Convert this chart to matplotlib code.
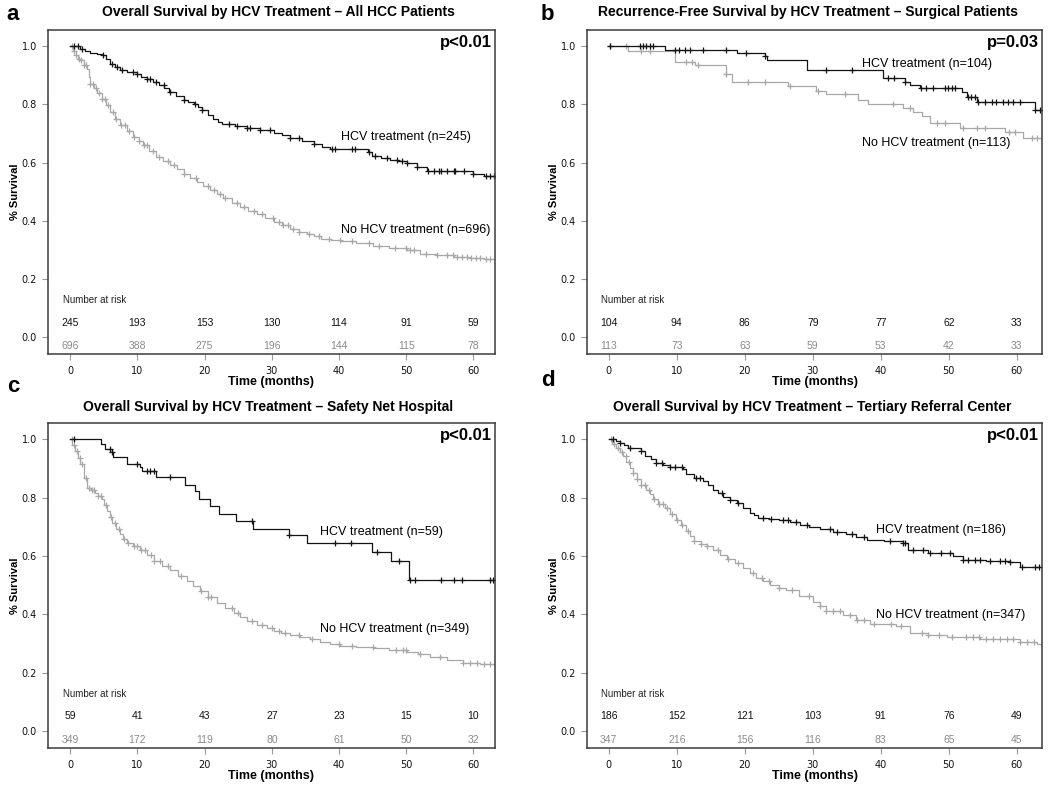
import numpy as np
import matplotlib
matplotlib.use("Agg")
import matplotlib.pyplot as plt

plt.rcParams['font.family'] = ['Liberation Sans', 'DejaVu Sans']

W, H = 1050, 786

# ---- panel a: all HCC patients ----
a_trt_t = [0, 1.5, 2.2, 3.0, 4.0, 4.7, 5.3, 5.9, 6.6, 7.4, 8.5, 9.9, 10.6, 11.4, 12.3, 13.2, 14.0,
           14.7, 15.8, 16.9, 17.6, 18.4, 19.0, 19.6, 20.5, 21.3, 22.0, 22.6, 24.5, 26.3, 28.3, 30.3,
           31.5, 32.7, 34.5, 36.2, 37.5, 38.7, 44.3, 44.9, 46.2, 47.6, 48.8, 50.1, 51.6, 53.1, 60.0,
           61.5, 63.2]
a_trt_s = [1.0, 0.99, 0.985, 0.977, 0.972, 0.969, 0.955, 0.94, 0.93, 0.92, 0.913, 0.906, 0.896, 0.886,
           0.876, 0.866, 0.855, 0.843, 0.83, 0.814, 0.807, 0.80, 0.79, 0.78, 0.765, 0.751, 0.741, 0.732,
           0.727, 0.72, 0.711, 0.702, 0.694, 0.686, 0.675, 0.663, 0.655, 0.648, 0.635, 0.622, 0.615,
           0.608, 0.604, 0.60, 0.585, 0.571, 0.5625, 0.553, 0.553]
a_trt_c = [0.5, 1.2, 1.7, 4.9, 6.2, 6.9, 7.7, 9.4, 9.9, 11.4, 11.9, 12.7, 13.9, 14.9, 16.9, 18.6, 19.6,
           23.6, 24.8, 26.3, 26.8, 28.3, 29.8, 32.7, 34.0, 36.2, 38.9, 39.4, 41.9, 42.4, 44.4, 45.4,
           47.1, 48.6, 49.4, 50.1, 51.6, 53.3, 54.1, 54.8, 55.1, 56.1, 57.1, 57.3, 58.6, 60.0, 61.8,
           62.5, 63.0]
a_no_t = [0, 0.4, 0.8, 1.2, 1.5, 2.0, 2.5, 2.8, 3.0, 3.5, 4.0, 4.7, 5.3, 5.9, 6.6, 7.4, 8.4, 9.4, 10.2,
          10.9, 11.8, 12.7, 13.8, 14.9, 15.9, 16.9, 17.8, 18.8, 19.8, 20.8, 21.8, 22.8, 24.0, 25.3, 26.5,
          27.8, 29.0, 30.3, 31.5, 32.7, 34.0, 35.2, 36.3, 37.3, 38.8, 40.3, 42.5, 45.1, 47.5, 50.1, 52.1,
          54.5, 57.1, 59.5, 61.5, 63.2]
a_no_s = [1.0, 0.985, 0.97, 0.958, 0.952, 0.937, 0.923, 0.895, 0.872, 0.855, 0.84, 0.82, 0.797, 0.774,
          0.75, 0.729, 0.708, 0.688, 0.674, 0.66, 0.64, 0.62, 0.605, 0.591, 0.577, 0.5625, 0.548, 0.534,
          0.52, 0.505, 0.491, 0.477, 0.462, 0.448, 0.435, 0.423, 0.41, 0.396, 0.384, 0.373, 0.363, 0.354,
          0.346, 0.339, 0.334, 0.33, 0.322, 0.313, 0.306, 0.299, 0.287, 0.282, 0.276, 0.271, 0.267, 0.267]
a_no_c = [0.3, 0.6, 0.9, 1.3, 1.6, 2.0, 2.4, 3.0, 3.4, 3.8, 4.3, 4.7, 5.2, 5.6, 6.3, 6.8, 7.5, 8.2, 8.8,
          9.5, 10.2, 11.0, 11.5, 12.3, 13.2, 14.5, 15.4, 17.0, 18.7, 20.5, 21.4, 22.3, 23.1, 24.8, 25.8,
          27.3, 28.6, 30.2, 31.0, 31.7, 32.4, 33.2, 34.0, 35.5, 37.0, 38.5, 40.2, 42.0, 44.5, 46.0, 48.3,
          50.0, 50.5, 51.2, 53.0, 54.5, 56.0, 57.0, 57.5, 58.3, 59.0, 59.6, 60.3, 61.0, 61.8, 62.5]
a_risk_trt = [245, 193, 153, 130, 114, 91, 59]
a_risk_no = [696, 388, 275, 196, 144, 115, 78]

# ---- panel b: surgical patients ----
b_trt_t = [0, 8.2, 18.8, 22.9, 23.2, 29.1, 40.3, 43.5, 44.3, 45.7, 51.9, 52.6, 54.1, 62.7, 63.7]
b_trt_s = [1.0, 0.986, 0.977, 0.966, 0.952, 0.918, 0.891, 0.877, 0.868, 0.855, 0.843, 0.826, 0.809,
           0.782, 0.782]
b_trt_c = [0.2, 4.6, 5.0, 5.5, 6.0, 6.5, 9.7, 10.4, 11.2, 11.9, 13.9, 17.3, 20.2, 22.9, 32.0, 35.7,
           41.0, 42.0, 43.5, 45.9, 46.7, 47.7, 49.4, 49.9, 50.4, 50.9, 52.8, 53.3, 53.8, 54.3, 55.3,
           56.3, 57.0, 58.0, 58.7, 59.5, 60.5, 62.7, 63.4]
b_no_t = [0, 2.8, 9.7, 12.7, 17.3, 18.1, 26.4, 30.5, 32.0, 36.7, 38.1, 43.3, 44.8, 46.0, 47.2, 51.6,
          58.2, 60.9, 63.7]
b_no_s = [1.0, 0.984, 0.946, 0.935, 0.906, 0.877, 0.8625, 0.846, 0.835, 0.817, 0.803, 0.789, 0.774,
          0.759, 0.736, 0.72, 0.706, 0.683, 0.683]
b_no_c = [0.2, 2.6, 4.8, 6.0, 11.4, 12.2, 13.1, 17.3, 20.4, 22.9, 26.6, 30.8, 34.7, 41.8, 44.3, 48.2,
          49.4, 52.1, 54.1, 55.3, 58.9, 59.7, 62.2, 62.9]
b_risk_trt = [104, 94, 86, 79, 77, 62, 33]
b_risk_no = [113, 73, 63, 59, 53, 42, 33]

# ---- panel c: safety net hospital ----
c_trt_t = [0, 4.6, 5.2, 6.2, 6.3, 8.5, 10.4, 10.7, 12.8, 17.1, 18.6, 19.1, 20.8, 22.1, 24.7, 27.2,
           32.6, 35.2, 44.9, 47.7, 50.4, 63.2]
c_trt_s = [1.0, 0.983, 0.966, 0.955, 0.939, 0.916, 0.905, 0.891, 0.870, 0.845, 0.822, 0.797, 0.771,
           0.745, 0.719, 0.694, 0.671, 0.644, 0.614, 0.582, 0.519, 0.519]
c_trt_c = [0.5, 5.9, 6.2, 9.9, 11.4, 11.9, 12.4, 14.9, 27.0, 32.6, 39.4, 41.8, 45.6, 48.9, 50.6, 51.3,
           55.1, 57.1, 58.3, 62.5, 62.9]
c_no_t = [0, 0.3, 0.7, 1.1, 1.5, 2.0, 2.5, 3.1, 3.7, 4.2, 4.7, 5.1, 5.5, 5.9, 6.2, 6.8, 7.4, 7.9, 8.4,
          9.4, 10.4, 11.4, 12.4, 13.6, 14.9, 16.1, 17.4, 18.3, 19.3, 20.5, 21.8, 23.0, 24.3, 25.3, 26.3,
          27.8, 29.3, 30.3, 31.3, 32.7, 34.2, 35.7, 37.2, 38.7, 40.2, 42.5, 45.1, 47.5, 50.1, 51.8, 53.6,
          56.0, 58.5, 61.0, 63.2]
c_no_s = [1.0, 0.98, 0.96, 0.937, 0.914, 0.868, 0.834, 0.825, 0.817, 0.806, 0.794, 0.774, 0.754, 0.734,
          0.714, 0.694, 0.674, 0.66, 0.645, 0.634, 0.622, 0.602, 0.582, 0.567, 0.553, 0.533, 0.513, 0.496,
          0.479, 0.459, 0.439, 0.421, 0.404, 0.391, 0.378, 0.365, 0.353, 0.344, 0.336, 0.33, 0.324, 0.315,
          0.307, 0.3, 0.293, 0.289, 0.284, 0.278, 0.272, 0.263, 0.255, 0.244, 0.233, 0.229, 0.227]
c_no_c = [0.2, 0.6, 1.0, 1.4, 1.8, 2.3, 2.8, 3.2, 3.6, 4.2, 4.6, 5.3, 6.0, 6.6, 7.3, 8.0, 8.6, 9.5,
          10.0, 10.5, 11.2, 12.0, 12.5, 13.3, 14.5, 16.5, 19.5, 20.5, 21.0, 24.0, 25.0, 27.0, 28.5,
          30.0, 31.0, 32.0, 34.0, 36.0, 40.0, 42.0, 45.0, 48.5, 49.5, 50.0, 52.0, 55.0, 58.5, 59.5,
          60.5, 61.5, 62.5]
c_risk_trt = [59, 41, 43, 27, 23, 15, 10]
c_risk_no = [349, 172, 119, 80, 61, 50, 32]

# ---- panel d: tertiary referral center ----
d_trt_t = [0, 1.0, 1.6, 2.2, 2.8, 4.8, 5.3, 6.2, 7.0, 8.0, 9.0, 10.9, 11.4, 12.6, 13.9, 14.6, 15.3,
           16.0, 16.8, 17.8, 18.8, 19.8, 20.7, 21.3, 21.9, 23.5, 25.1, 26.6, 28.1, 29.5, 31.0, 33.0,
           34.9, 36.4, 37.9, 40.5, 43.3, 44.0, 47.0, 50.6, 52.1, 55.5, 59.0, 60.4, 63.7]
d_trt_s = [1.0, 0.995, 0.989, 0.979, 0.969, 0.96, 0.943, 0.932, 0.92, 0.912, 0.905, 0.897, 0.88, 0.868,
           0.857, 0.843, 0.828, 0.815, 0.802, 0.792, 0.782, 0.765, 0.748, 0.74, 0.731, 0.727, 0.722,
           0.715, 0.708, 0.70, 0.691, 0.683, 0.674, 0.665, 0.656, 0.651, 0.645, 0.619, 0.609, 0.599,
           0.588, 0.584, 0.58, 0.561, 0.561]
d_trt_c = [0.6, 1.6, 3.1, 4.8, 7.0, 7.8, 9.0, 9.7, 10.7, 12.9, 13.4, 16.6, 17.8, 19.0, 22.7, 23.9,
           25.6, 26.4, 27.6, 29.1, 32.6, 33.5, 35.7, 37.6, 41.3, 43.3, 43.5, 44.8, 46.2, 47.2, 48.9,
           50.1, 52.1, 52.8, 53.8, 54.6, 56.0, 57.5, 58.2, 59.0, 60.7, 62.7, 63.3]
d_no_t = [0, 0.5, 1.1, 1.6, 2.1, 2.6, 3.1, 3.6, 4.1, 4.8, 5.5, 6.0, 6.5, 7.3, 8.2, 9.0, 9.9, 10.6, 11.4,
          12.0, 12.6, 13.5, 14.4, 15.3, 16.3, 17.4, 18.5, 19.8, 20.7, 21.7, 22.7, 23.7, 25.0, 26.1, 28.0,
          30.0, 31.0, 32.0, 34.5, 36.4, 38.4, 42.3, 44.3, 47.0, 49.7, 54.6, 60.4, 62.9, 63.7]
d_no_s = [1.0, 0.985, 0.971, 0.957, 0.943, 0.923, 0.903, 0.883, 0.863, 0.845, 0.828, 0.811, 0.794,
          0.78, 0.765, 0.745, 0.725, 0.705, 0.685, 0.668, 0.651, 0.642, 0.633, 0.619, 0.605, 0.59, 0.576,
          0.559, 0.542, 0.525, 0.513, 0.501, 0.491, 0.482, 0.463, 0.444, 0.428, 0.412, 0.399, 0.381,
          0.367, 0.359, 0.336, 0.33, 0.324, 0.316, 0.307, 0.298, 0.298]
d_no_c = [0.3, 0.8, 1.4, 1.9, 2.5, 3.0, 3.6, 4.2, 4.8, 5.3, 5.9, 6.6, 7.4, 8.0, 8.6, 9.3, 10.0, 10.8,
          11.6, 12.6, 13.5, 14.4, 16.0, 17.5, 19.0, 21.2, 22.5, 23.5, 25.0, 27.0, 29.5, 31.0, 32.0,
          33.0, 34.0, 35.5, 36.5, 37.5, 39.0, 41.5, 43.0, 46.0, 47.0, 48.5, 50.5, 52.5, 53.5, 54.5,
          55.5, 56.5, 57.5, 58.5, 59.5, 60.5, 61.5, 62.5]
d_risk_trt = [186, 152, 121, 103, 91, 76, 49]
d_risk_no = [347, 216, 156, 116, 83, 65, 45]

risk_times = [0, 10, 20, 30, 40, 50, 60]

titles = ["Overall Survival by HCV Treatment \u2013 All HCC Patients",
          "Recurrence-Free Survival by HCV Treatment \u2013 Surgical Patients",
          "Overall Survival by HCV Treatment \u2013 Safety Net Hospital",
          "Overall Survival by HCV Treatment \u2013 Tertiary Referral Center"]
letters = ["a", "b", "c", "d"]
pvals = ["p<0.01", "p=0.03", "p<0.01", "p<0.01"]
n_trt = [245, 104, 59, 186]
n_no = [696, 113, 349, 347]

BLACK = "#141414"
GRAY = "#a8a8a8"
GRAY_TXT = "#8a8a8a"


def box(l, t, r, b):
    return [l / W, 1 - b / H, (r - l) / W, (b - t) / H]


def km(ax, t, s, cens, color):
    t = np.array(t)
    s = np.array(s)
    ax.plot(t, s, drawstyle="steps-post", color=color, lw=0.9)
    idx = np.searchsorted(t, cens, side="right") - 1
    ax.plot(cens, s[idx], ls="none", marker="+", ms=5, mew=0.9, color=color)


panels = [
    dict(pos=box(48, 30, 495, 354), xlim=(-3.3, 63.2), title_xy=(278, 12), letter_xy=(13, 15),
         curves=(a_trt_t, a_trt_s, a_trt_c, a_no_t, a_no_s, a_no_c), risk=(a_risk_trt, a_risk_no),
         lab_trt=(40.3, 0.687), lab_no=(40.3, 0.368)),
    dict(pos=box(587, 30, 1042, 354), xlim=(-3.2, 63.7), title_xy=(808, 12), letter_xy=(547, 15),
         curves=(b_trt_t, b_trt_s, b_trt_c, b_no_t, b_no_s, b_no_c), risk=(b_risk_trt, b_risk_no),
         lab_trt=(37.3, 0.94), lab_no=(37.3, 0.668)),
    dict(pos=box(48, 423, 495, 748), xlim=(-3.3, 63.2), title_xy=(268, 407), letter_xy=(13, 386),
         curves=(c_trt_t, c_trt_s, c_trt_c, c_no_t, c_no_s, c_no_c), risk=(c_risk_trt, c_risk_no),
         lab_trt=(37.1, 0.683), lab_no=(37.1, 0.35)),
    dict(pos=box(587, 423, 1042, 748), xlim=(-3.2, 63.7), title_xy=(812, 407), letter_xy=(548, 381),
         curves=(d_trt_t, d_trt_s, d_trt_c, d_no_t, d_no_s, d_no_c), risk=(d_risk_trt, d_risk_no),
         lab_trt=(39.3, 0.69), lab_no=(39.3, 0.398)),
]

fig = plt.figure(figsize=(W / 100, H / 100), dpi=100)

for i, p in enumerate(panels):
    ax = fig.add_axes(p["pos"])
    tt, ts, tc, nt, ns, nc = p["curves"]
    km(ax, nt, ns, nc, GRAY)
    km(ax, tt, ts, tc, BLACK)
    ax.set_xlim(*p["xlim"])
    ax.set_ylim(-0.058, 1.056)
    ax.set_xticks(risk_times)
    ax.set_yticks([0.0, 0.2, 0.4, 0.6, 0.8, 1.0])
    ax.set_yticklabels(["0.0", "0.2", "0.4", "0.6", "0.8", "1.0"])
    for lab in ax.get_xticklabels() + ax.get_yticklabels():
        lab.set_family("DejaVu Sans")
        lab.set_fontsize(7)
    ax.tick_params(axis="both", length=4, width=0.8, color="#999999", labelcolor="#111111")
    ax.tick_params(axis="x", pad=4.5)
    ax.tick_params(axis="y", pad=4)
    for sp in ax.spines.values():
        sp.set_color("#3a3a3a")
        sp.set_linewidth(1.1)
    ax.set_xlabel("Time (months)", fontsize=9, fontweight="bold", labelpad=0)
    ax.set_ylabel("% Survival", fontsize=8, fontweight="bold")
    ax.yaxis.set_label_coords(-0.062, 0.5)

    ax.text(0.993, 0.96, pvals[i], transform=ax.transAxes, ha="right", va="center",
            fontsize=12, fontweight="bold")
    ax.text(p["lab_trt"][0], p["lab_trt"][1], "HCV treatment (n=%d)" % n_trt[i],
            fontsize=9, va="center", ha="left")
    ax.text(p["lab_no"][0], p["lab_no"][1], "No HCV treatment (n=%d)" % n_no[i],
            fontsize=9, va="center", ha="left")

    # number at risk table
    ax.text(-1.1, 0.128, "Number at risk", fontsize=7, va="center", ha="left", color="#222222")
    rt, rn = p["risk"]
    for x, v in zip(risk_times, rt):
        ax.text(x, 0.05, str(v), fontsize=7.5, ha="center", va="center", color="#111111")
    for x, v in zip(risk_times, rn):
        ax.text(x, -0.029, str(v), fontsize=7.5, ha="center", va="center", color=GRAY_TXT)

    tx, ty = p["title_xy"]
    fig.text(tx / W, 1 - ty / H, titles[i], ha="center", va="center", fontsize=10, fontweight="bold")
    lx, ly = p["letter_xy"]
    fig.text(lx / W, 1 - ly / H, letters[i], ha="center", va="center", fontsize=16, fontweight="bold")

fig.savefig("out.png", dpi=100)
